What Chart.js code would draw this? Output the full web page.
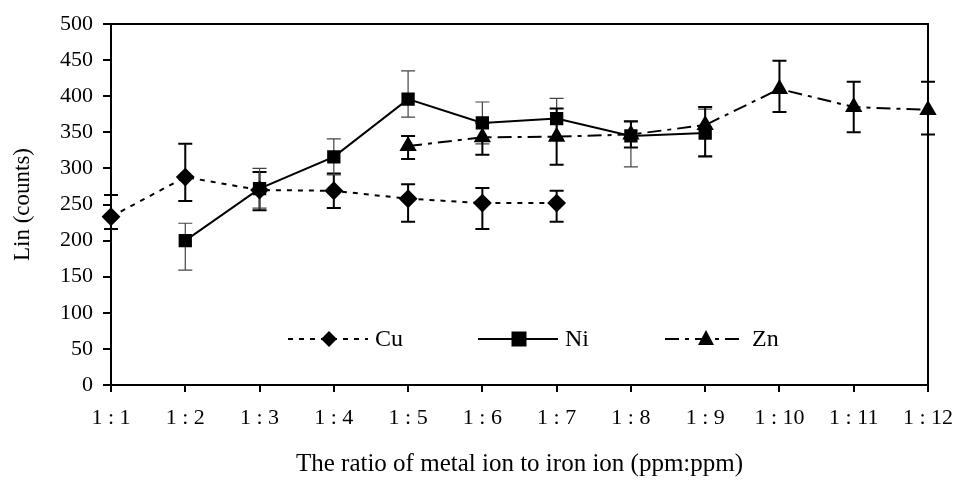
<!DOCTYPE html>
<html>
<head>
<meta charset="utf-8">
<script src="https://cdn.jsdelivr.net/npm/chart.js@4.4.0/dist/chart.umd.min.js"></script>
<style>
  html, body { margin: 0; padding: 0; background: #fff; }
  #wrap { width: 956px; height: 483px; }
</style>
</head>
<body>
<div id="wrap"><canvas id="ratioChart" width="956" height="483"></canvas></div>
<script>
// ratio labels on the x axis
const ratios = ["1 : 1", "1 : 2", "1 : 3", "1 : 4", "1 : 5", "1 : 6", "1 : 7", "1 : 8", "1 : 9", "1 : 10", "1 : 11", "1 : 12"];

// Cu series + error (up / down)
const cuValues = [233, 288, 270, 269, 258, 252, 252, null, null, null, null, null];
const cuErrUp  = [30, 46, 25, 24, 20, 21, 17, null, null, null, null, null];
const cuErrDn  = [17, 33, 28, 24, 32, 36, 26, null, null, null, null, null];

// Ni series + error
const niValues = [null, 200, 272, 316, 396, 363, 369, 345, 349, null, null, null];
const niErrUp  = [null, 24, 28, 25, 39, 29, 28, 21, 33, null, null, null];
const niErrDn  = [null, 41, 27, 25, 25, 29, 28, 43, 33, null, null, null];

// Zn series + error
const znValues = [null, null, null, null, 331, 343, 344, 347, 360, 410, 385, 381];
const znErrUp  = [null, null, null, null, 14, 20, 39, 18, 25, 39, 35, 39];
const znErrDn  = [null, null, null, null, 18, 24, 39, 18, 43, 32, 35, 34];

const yTicks = [0, 50, 100, 150, 200, 250, 300, 350, 400, 450, 500];

const FONT = "'Liberation Serif', 'Times New Roman', serif";

const errorBars = {
    id: "errorBars",
    beforeDatasetsDraw(chart) {
        const ctx = chart.ctx;
        const x = chart.scales.x, y = chart.scales.y;
        chart.data.datasets.forEach((ds) => {
            const up = ds.errUp, dn = ds.errDn;
            ds.data.forEach((v, i) => {
                if (v == null) return;
                const px = x.getPixelForValue(i);
                const top = y.getPixelForValue(v + up[i]);
                const bot = y.getPixelForValue(v - dn[i]);
                ctx.save();
                ctx.strokeStyle = ds.errColor;
                ctx.lineWidth = ds.errWidth;
                ctx.setLineDash([]);
                ctx.beginPath();
                ctx.moveTo(px, top); ctx.lineTo(px, bot);
                ctx.moveTo(px - 7, top); ctx.lineTo(px + 7, top);
                ctx.moveTo(px - 7, bot); ctx.lineTo(px + 7, bot);
                ctx.stroke();
                ctx.restore();
            });
        });
    }
};

function drawMarker(ctx, style, cx, cy) {
    ctx.beginPath();
    if (style === "rectRot") {
        ctx.moveTo(cx, cy - 8); ctx.lineTo(cx + 8, cy); ctx.lineTo(cx, cy + 8); ctx.lineTo(cx - 8, cy);
    } else if (style === "rect") {
        ctx.rect(cx - 7.5, cy - 7.5, 15, 15);
    } else {
        ctx.moveTo(cx, cy - 9); ctx.lineTo(cx + 8, cy + 6); ctx.lineTo(cx - 8, cy + 6);
    }
    ctx.closePath();
    ctx.fill();
}

const frameAndLegend = {
    id: "frameAndLegend",
    afterDraw(chart) {
        const ctx = chart.ctx;
        const a = chart.chartArea;
        ctx.save();
        // top and right border
        ctx.strokeStyle = "#000";
        ctx.lineWidth = 2;
        ctx.beginPath();
        ctx.moveTo(a.left, a.top); ctx.lineTo(a.right, a.top); ctx.lineTo(a.right, a.bottom);
        ctx.stroke();

        // legend inside plot area
        const ly = a.top + 315;
        const entries = [
            { x: a.left + 177, ds: chart.data.datasets[0] },
            { x: a.left + 367, ds: chart.data.datasets[1] },
            { x: a.left + 554, ds: chart.data.datasets[2] }
        ];
        entries.forEach(e => {
            ctx.strokeStyle = "#000";
            ctx.fillStyle = "#000";
            ctx.lineWidth = 2;
            ctx.setLineDash(e.ds.borderDash || []);
            ctx.beginPath();
            ctx.moveTo(e.x, ly); ctx.lineTo(e.x + 80, ly);
            ctx.stroke();
            ctx.setLineDash([]);
            drawMarker(ctx, e.ds.pointStyle, e.x + 41, ly);
            ctx.font = "24px " + FONT;
            ctx.textBaseline = "middle";
            ctx.textAlign = "left";
            ctx.fillText(e.ds.label, e.x + 87, ly + 1);
        });
        ctx.restore();
    }
};

const commonDs = {
    borderColor: "#000",
    backgroundColor: "#000",
    pointBackgroundColor: "#000",
    pointBorderColor: "#000",
    borderWidth: 2,
    tension: 0,
    spanGaps: false
};

new Chart(document.getElementById("ratioChart"), {
    type: "line",
    data: {
        labels: ratios,
        datasets: [
            Object.assign({}, commonDs, {
                label: "Cu", data: cuValues, errUp: cuErrUp, errDn: cuErrDn,
                borderDash: [5, 6], pointStyle: "rectRot", pointRadius: 8,
                errColor: "#000", errWidth: 2
            }),
            Object.assign({}, commonDs, {
                label: "Ni", data: niValues, errUp: niErrUp, errDn: niErrDn,
                pointStyle: "rect", pointRadius: 8,
                errColor: "#444", errWidth: 1.2
            }),
            Object.assign({}, commonDs, {
                label: "Zn", data: znValues, errUp: znErrUp, errDn: znErrDn,
                borderDash: [14, 6, 4, 6], pointStyle: "triangle", pointRadius: 8,
                errColor: "#000", errWidth: 2
            })
        ]
    },
    options: {
        responsive: false,
        animation: false,
        layout: { padding: { top: 24, right: 28, left: 0, bottom: 0 } },
        plugins: {
            legend: { display: false },
            tooltip: { enabled: false }
        },
        scales: {
            x: {
                type: "category",
                offset: false,
                grid: { drawOnChartArea: false, drawTicks: true, tickLength: 7, color: "#000", lineWidth: 2 },
                border: { display: true, color: "#000", width: 2 },
                ticks: { color: "#000", font: { family: FONT, size: 22 }, padding: 13, maxRotation: 0, autoSkip: false },
                title: { display: true, text: "The ratio of metal ion to iron ion (ppm:ppm)", color: "#000", font: { family: FONT, size: 25 }, padding: { top: 12 } },
                afterFit(scale) {
                    scale.height = 98;
                    scale.paddingLeft = 0;
                    scale.paddingRight = 0;
                }
            },
            y: {
                min: 0, max: 500,
                afterBuildTicks(scale) { scale.ticks = yTicks.map(v => ({ value: v })); },
                grid: { drawOnChartArea: false, drawTicks: true, tickLength: 8, color: "#000", lineWidth: 2 },
                border: { display: true, color: "#000", width: 2 },
                ticks: { color: "#000", font: { family: FONT, size: 22 }, padding: 10 },
                title: { display: true, text: "Lin (counts)", color: "#000", font: { family: FONT, size: 23 }, padding: { top: 9, bottom: 0 } },
                afterFit(scale) {
                    scale.width = 111;
                    scale.paddingTop = 0;
                    scale.paddingBottom = 0;
                }
            }
        }
    },
    plugins: [errorBars, frameAndLegend]
});
</script>
</body>
</html>
